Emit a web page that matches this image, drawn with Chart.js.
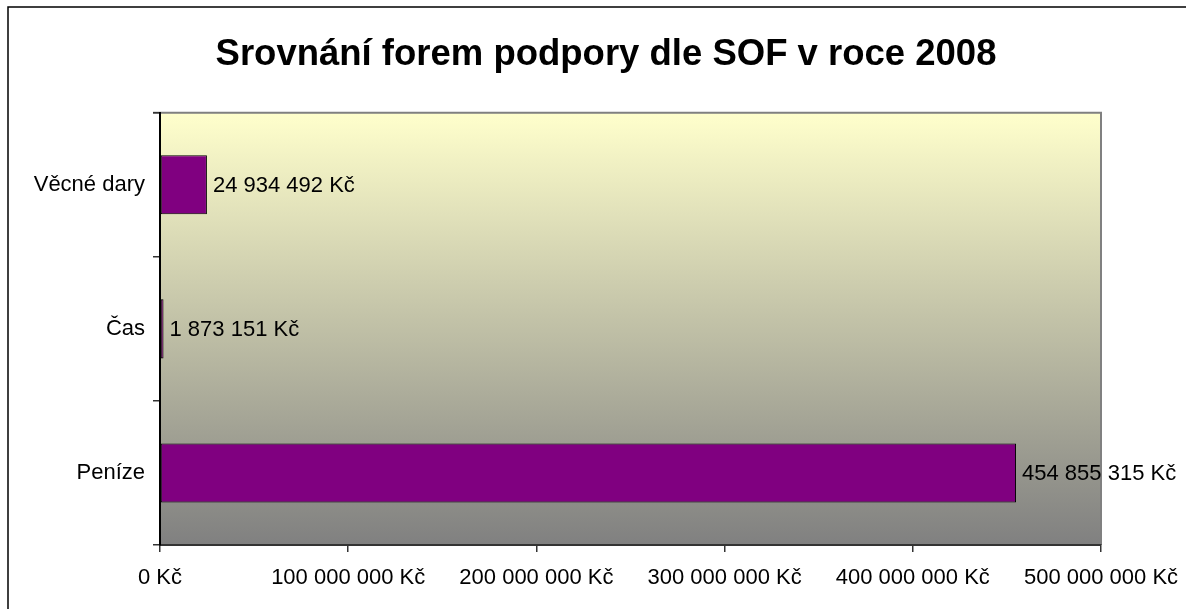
<!DOCTYPE html>
<html>
<head>
<meta charset="utf-8">
<script src="https://cdn.jsdelivr.net/npm/chart.js@4/dist/chart.umd.min.js"></script>
<style>
  html, body { margin: 0; padding: 0; background: #fff; }
</style>
</head>
<body>
<canvas id="myChart" width="1186" height="609"></canvas>
<script>
// kategorie (shora dolu) a hodnoty v Kč
var categories = ["Věcné dary", "Čas", "Peníze"];
var values = [24934492, 1873151, 454855315];
// hodnoty na ose x
var tickValues = [0, 100000000, 200000000, 300000000, 400000000, 500000000];
var chartTitle = "Srovnání forem podpory dle SOF v roce 2008";

var fontFamily = "'Liberation Sans', Arial, sans-serif";

// 454855315 -> "454 855 315 Kč"
function formatKc(value) {
  return String(value).replace(/\B(?=(\d{3})+(?!\d))/g, " ") + " Kč";
}

// pozadi grafu - ramecek a prechod zluta -> seda
var backgroundPlugin = {
  id: "background",
  afterLayout: function(chart) {
    // nadpis je vycentrovany na celou sirku ramecku, ne jen na graf
    if (chart.titleBlock) {
      chart.titleBlock.left = 26;
      chart.titleBlock.right = chart.width;
      chart.titleBlock.width = chart.width - 26;
    }
  },
  beforeDraw: function(chart) {
    var ctx = chart.ctx;
    var area = chart.chartArea;
    ctx.save();
    ctx.fillStyle = "#ffffff";
    ctx.fillRect(0, 0, chart.width, chart.height);
    // vnejsi ramecek
    ctx.strokeStyle = "#000000";
    ctx.lineWidth = 1.5;
    ctx.strokeRect(8, 7, chart.width + 20, chart.height + 20);
    // prechod v oblasti grafu
    var gradient = ctx.createLinearGradient(0, area.top, 0, area.bottom);
    gradient.addColorStop(0, "#ffffcc");
    gradient.addColorStop(1, "#808080");
    ctx.fillStyle = gradient;
    ctx.fillRect(area.left, area.top, area.right - area.left, area.bottom - area.top);
    // seda hrana nahore a vpravo
    ctx.strokeStyle = "#808080";
    ctx.lineWidth = 2;
    ctx.beginPath();
    ctx.moveTo(area.left - 7, area.top);
    ctx.lineTo(area.right, area.top);
    ctx.lineTo(area.right, area.bottom);
    ctx.stroke();
    ctx.restore();
  }
};

// popisky hodnot vedle sloupcu
var valueLabelsPlugin = {
  id: "valueLabels",
  afterDatasetsDraw: function(chart) {
    var ctx = chart.ctx;
    var meta = chart.getDatasetMeta(0);
    ctx.save();
    ctx.font = "22px " + fontFamily;
    ctx.fillStyle = "#000000";
    ctx.textAlign = "left";
    ctx.textBaseline = "middle";
    for (var i = 0; i < meta.data.length; i++) {
      var bar = meta.data[i];
      ctx.fillText(formatKc(values[i]), bar.x + 6, bar.y + 1);
    }
    ctx.restore();
  }
};

var ctx = document.getElementById("myChart");
var myChart = new Chart(ctx, {
  type: "bar",
  data: {
    labels: categories,
    datasets: [{
      data: values,
      backgroundColor: "#800080",
      borderColor: "#000000",
      borderWidth: 1,
      borderSkipped: false,
      categoryPercentage: 1,
      barPercentage: 0.41
    }]
  },
  options: {
    indexAxis: "y",
    responsive: false,
    animation: false,
    layout: {
      padding: { left: 0, right: 85, top: 0, bottom: 0 }
    },
    plugins: {
      legend: { display: false },
      tooltip: { enabled: false },
      title: {
        display: true,
        text: chartTitle,
        color: "#000000",
        font: { family: fontFamily, size: 36.5, weight: "bold" },
        padding: { top: 33, bottom: 36 }
      }
    },
    scales: {
      x: {
        min: 0,
        max: 500000000,
        afterBuildTicks: function(scale) {
          scale.ticks = tickValues.map(function(v) { return { value: v }; });
        },
        afterFit: function(scale) {
          scale.height = 64;
          // posledni popisek smi presahovat doprava
          scale.paddingLeft = 0;
          scale.paddingRight = 0;
        },
        border: { color: "#333333", width: 2 },
        grid: { drawOnChartArea: false, tickLength: 7, color: "#333333", lineWidth: 1.5 },
        ticks: {
          color: "#000000",
          padding: 13,
          maxRotation: 0,
          font: { family: fontFamily, size: 22 },
          callback: function(value) { return formatKc(value); }
        }
      },
      y: {
        afterFit: function(scale) {
          scale.width = 160;
        },
        border: { color: "#000000", width: 2 },
        grid: { drawOnChartArea: false, tickLength: 7, color: "#333333", lineWidth: 1.5, offset: true },
        ticks: {
          color: "#000000",
          padding: 8,
          font: { family: fontFamily, size: 22 }
        }
      }
    }
  },
  plugins: [backgroundPlugin, valueLabelsPlugin]
});
</script>
</body>
</html>
